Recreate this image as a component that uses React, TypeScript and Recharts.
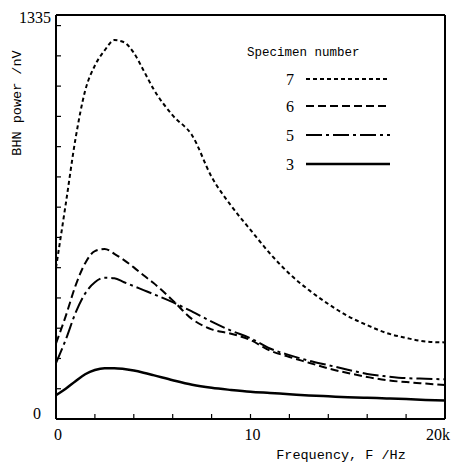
import { LineChart, Line, XAxis, YAxis, Legend } from 'recharts';

// frequency in kHz, BHN power in nV
const frequency = [0, 0.5, 1, 1.5, 2, 2.5, 3, 3.5, 4, 4.5, 5, 6, 7, 8, 9, 10, 11, 12, 13, 14, 15, 16, 17, 18, 19, 20];
const specimen7 = [500, 710, 925, 1085, 1168, 1218, 1252, 1245, 1210, 1152, 1092, 1003, 937, 800, 705, 625, 547, 480, 426, 380, 340, 310, 284, 268, 256, 253];
const specimen6 = [250, 340, 440, 515, 555, 562, 546, 525, 501, 475, 450, 392, 330, 296, 282, 261, 226, 205, 186, 167, 152, 139, 128, 122, 117, 112];
const specimen5 = [185, 262, 350, 415, 452, 467, 465, 452, 439, 426, 413, 386, 355, 322, 292, 267, 233, 211, 193, 178, 163, 149, 141, 135, 133, 131];
const specimen3 = [79, 100, 125, 148, 162, 168, 168, 165, 160, 153, 145, 128, 113, 103, 96, 90, 86, 82, 78, 75, 72, 70, 68, 66, 63, 61];

const specimenNames = ['7', '6', '5', '3'];
const xTicks = [0, 2, 4, 6, 8, 10, 12, 14, 16, 18, 20];
const yTicks = [0, 100, 200, 300, 400, 500, 600, 700, 800, 900, 1000, 1100, 1200, 1300, 1335];
const yMax = 1335;

const data = frequency.map((f, i) => ({
    f,
    s7: specimen7[i],
    s6: specimen6[i],
    s5: specimen5[i],
    s3: specimen3[i],
}));

const seriesKeys = ['s7', 's6', 's5', 's3'];
const dashes: Record<string, string | undefined> = { s7: '4 3', s6: '8 4', s5: '16 4 3 4', s3: undefined };
const widths: Record<string, number> = { s7: 2, s6: 2, s5: 2, s3: 2.5 };

const SERIF = '"Liberation Serif", serif';
const MONO = '"Liberation Mono", monospace';

const XTick = (props: any) => {
    const { x, y, payload } = props;
    const v = payload.value;
    if (v !== 0 && v !== 10 && v !== 20) return null;
    const isLast = v === 20;
    return (
        <text x={isLast ? x + 5 : x + 2} y={y} dy="0.71em" textAnchor={isLast ? 'end' : 'middle'}
            fontFamily={SERIF} fontSize={16} fill="#000">
            {isLast ? '20k' : v}
        </text>
    );
};

const YTick = (props: any) => {
    const { x, y, payload } = props;
    const v = payload.value;
    if (v !== 0 && v !== yMax) return null;
    return (
        <text x={v === 0 ? x - 10 : x} y={v === 0 ? y - 6 : y + 2} dy="0.35em" textAnchor="end"
            fontFamily={SERIF} fontSize={16} fill="#000">
            {v}
        </text>
    );
};

const LegendBox = () => {
    const rows = [79, 106, 135, 164];
    return (
        <svg width={170} height={150} style={{ overflow: 'visible' }}>
            <g transform="translate(-230,-30)">
                <text x={247} y={56} fontFamily={MONO} fontSize={12.5} fill="#000">Specimen number</text>
                {seriesKeys.map((k, i) => (
                    <g key={k}>
                        <text x={290} y={rows[i] + 3} dy="0.2em" textAnchor="middle" fontFamily={SERIF} fontSize={16} fill="#000">
                            {specimenNames[i]}
                        </text>
                        <line x1={306} x2={390} y1={rows[i]} y2={rows[i]} stroke="#000"
                            strokeWidth={widths[k]} strokeDasharray={dashes[k]} />
                    </g>
                ))}
            </g>
        </svg>
    );
};

export default function App() {
    return (
        <div style={{ position: 'absolute', left: 0, top: 0, background: '#fff' }}>
            <LineChart width={451} height={469} data={data} margin={{ top: 14, right: 5, bottom: 0, left: 0 }}>
                <XAxis dataKey="f" type="number" domain={[0, 20]} ticks={xTicks} interval={0}
                    height={50} tickSize={-5} tickMargin={15} tick={<XTick />}
                    axisLine={{ stroke: '#000', strokeWidth: 2 }} tickLine={{ stroke: '#000', strokeWidth: 1.2 }}
                    label={{
                        content: () => (
                            <text x={341} y={459} textAnchor="middle" fontFamily={MONO} fontSize={13.5} fill="#000">
                                Frequency, F /Hz
                            </text>
                        ),
                    }} />
                <XAxis xAxisId="top" orientation="top" dataKey="f" type="number" domain={[0, 20]} ticks={xTicks}
                    interval={0} height={1} tickSize={-5} tick={false}
                    axisLine={{ stroke: '#000', strokeWidth: 2 }} tickLine={{ stroke: '#000', strokeWidth: 1.2 }} />
                <YAxis type="number" domain={[0, yMax]} ticks={yTicks} interval={0} width={56}
                    tickSize={-5} tickMargin={10} tick={<YTick />}
                    axisLine={{ stroke: '#000', strokeWidth: 2 }} tickLine={{ stroke: '#000', strokeWidth: 1.2 }}
                    label={{
                        content: () => (
                            <text x={17} y={103} transform="rotate(-90, 17, 103)" textAnchor="middle" dominantBaseline="central"
                                fontFamily={MONO} fontSize={13.5} fill="#000">
                                BHN power /nV
                            </text>
                        ),
                    }} />
                <YAxis yAxisId="right" orientation="right" type="number" domain={[0, yMax]} ticks={yTicks}
                    interval={0} width={1} tickSize={-5} tick={false}
                    axisLine={{ stroke: '#000', strokeWidth: 2 }} tickLine={{ stroke: '#000', strokeWidth: 1.2 }} />
                <Legend layout="vertical" align="center" verticalAlign="middle" content={<LegendBox />}
                    wrapperStyle={{ left: 230, top: 30, width: 170, height: 150 }} />
                {seriesKeys.map(k => (
                    <Line key={k} type="monotone" dataKey={k} stroke="#000" strokeWidth={widths[k]}
                        strokeDasharray={dashes[k]} dot={false} activeDot={false} isAnimationActive={false} />
                ))}
            </LineChart>
        </div>
    );
}
